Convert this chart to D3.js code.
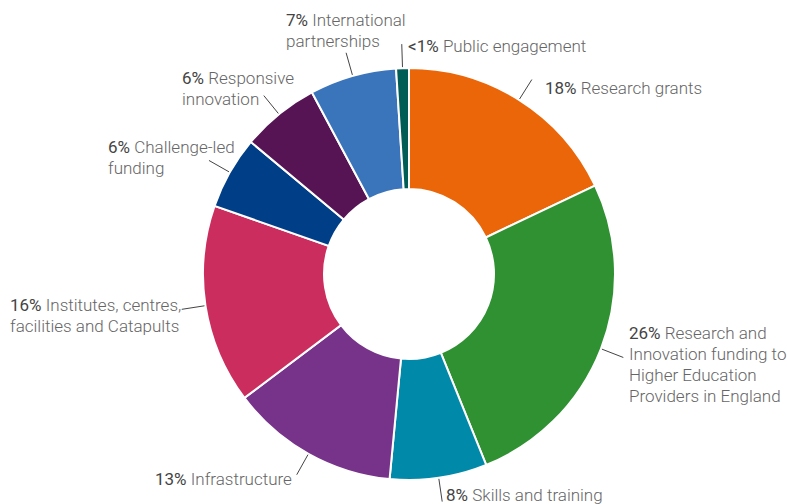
<!DOCTYPE html>
<html>
<head>
    <meta charset="utf-8">
    <script src="https://d3js.org/d3.v7.min.js"></script>
    <style>
        body { margin: 0; background: white; }
        text { font-family: Roboto, "Noto Sans", sans-serif; }
    </style>
</head>
<body>
    <div id="my_dataviz"></div>

    <script>
        // share of budget (%), clockwise from 12 o'clock
        var categories = ["Research grants",
            "Research and Innovation funding to Higher Education Providers in England",
            "Skills and training", "Infrastructure",
            "Institutes, centres, facilities and Catapults",
            "Challenge-led funding", "Responsive innovation",
            "International partnerships", "Public engagement"];
        var values = [17.9, 25.9, 7.6, 13.2, 15.6, 5.7, 6.1, 6.8, 1.0];
        var pctLabels = ["18%", "26%", "8%", "13%", "16%", "6%", "6%", "7%", "<1%"];
        // how each label wraps
        var labelLines = [
            ["Research grants"],
            ["Research and", "Innovation funding to", "Higher Education", "Providers in England"],
            ["Skills and training"],
            ["Infrastructure"],
            ["Institutes, centres,", "facilities and Catapults"],
            ["Challenge-led", "funding"],
            ["Responsive", "innovation"],
            ["International", "partnerships"],
            ["Public engagement"]
        ];
        var colors = ["#EB6608", "#2F9132", "#0089A8", "#77328A", "#CC2D5F",
            "#003F87", "#561455", "#3A74BA", "#005D55"];

        // label text placement (left x, first baseline)
        var labelPos = [[545, 94], [629, 339], [446, 501], [155, 485], [10, 311],
            [108, 153], [182, 84], [286, 26], [408, 52]];

        var width = 787, height = 504;
        var cx = 409, cy = 274, outerR = 206, innerR = 85;

        var svg = d3.select("#my_dataviz")
            .append("svg")
            .attr("width", width)
            .attr("height", height);

        var data = categories.map(function (c, i) {
            return { name: c, value: values[i], pct: pctLabels[i], lines: labelLines[i], i: i };
        });

        var pie = d3.pie().sort(null).value(function (d) { return d.value; });
        var arc = d3.arc().innerRadius(innerR).outerRadius(outerR);
        var arcs = pie(data);

        var g = svg.append("g")
            .attr("transform", "translate(" + cx + "," + cy + ")");

        g.selectAll("path")
            .data(arcs)
            .enter()
            .append("path")
            .attr("d", arc)
            .style("fill", function (d) { return colors[d.data.i]; })
            .style("stroke", "white")
            .style("stroke-width", 2);

        // leader lines, radial at slice mid angle
        var lineStart = d3.arc().innerRadius(outerR + 1).outerRadius(outerR + 1);
        var lineEnd = d3.arc().innerRadius(outerR + 24).outerRadius(outerR + 24);

        g.selectAll("line")
            .data(arcs)
            .enter()
            .append("line")
            .attr("x1", function (d) { return lineStart.centroid(d)[0]; })
            .attr("y1", function (d) { return lineStart.centroid(d)[1]; })
            .attr("x2", function (d) { return lineEnd.centroid(d)[0]; })
            .attr("y2", function (d) { return lineEnd.centroid(d)[1]; })
            .style("stroke", "#444")
            .style("stroke-width", 1);

        var labels = svg.selectAll(".lbl")
            .data(data)
            .enter()
            .append("text")
            .attr("class", "lbl")
            .attr("font-size", "17px")
            .attr("fill", "#666");

        labels.each(function (d) {
            var t = d3.select(this);
            var p = labelPos[d.i];
            d.lines.forEach(function (line, k) {
                if (k == 0) {
                    t.append("tspan")
                        .attr("x", p[0])
                        .attr("y", p[1])
                        .attr("fill", "#444")
                        .attr("font-weight", 400)
                        .text(d.pct + " ");
                    t.append("tspan")
                        .attr("font-weight", 300)
                        .text(line);
                } else {
                    t.append("tspan")
                        .attr("x", p[0])
                        .attr("y", p[1] + k * 21)
                        .attr("font-weight", 300)
                        .text(line);
                }
            });
        });
    </script>
</body>
</html>
